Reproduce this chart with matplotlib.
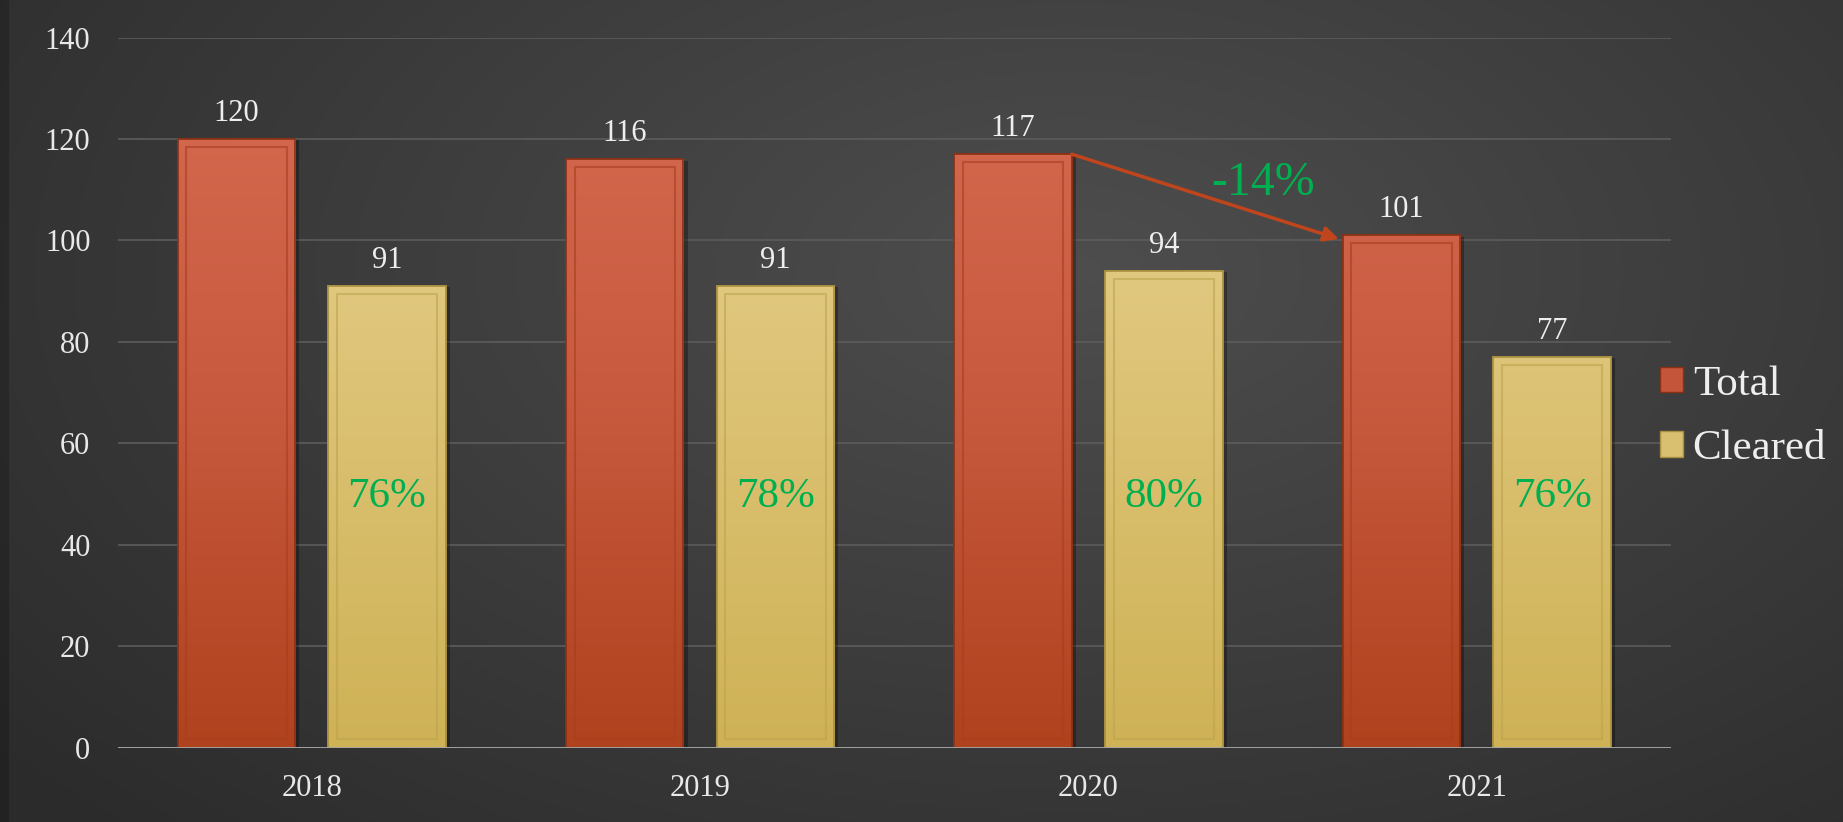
import numpy as np
import matplotlib
matplotlib.use("Agg")
import matplotlib.pyplot as plt
from matplotlib.patches import Rectangle, Patch
from matplotlib.colors import LinearSegmentedColormap
import matplotlib.patheffects as pe

# ---- data ----
years = ["2018", "2019", "2020", "2021"]
total = [120, 116, 117, 101]
cleared = [91, 91, 94, 77]
cleared_pct = ["76%", "78%", "80%", "76%"]
change_label = "-14%"
yticks = [0, 20, 40, 60, 80, 100, 120, 140]

plt.rcParams['font.family'] = ['Liberation Serif', 'DejaVu Serif']

W, H = 1843, 822
fig = plt.figure(figsize=(W / 100, H / 100), dpi=100)

# background radial gradient
bg = fig.add_axes([0, 0, 1, 1], zorder=-10)
yy, xx = np.mgrid[0:H, 0:W]
cx, cy = 0.58 * W, 0.33 * H
d = np.sqrt(((xx - cx) / (0.75 * W)) ** 2 + ((yy - cy) / (0.95 * H)) ** 2)
d = np.clip(d, 0, 1)
val = 0.305 - 0.135 * d
val[:, :9] *= 0.8
img = np.dstack([val, val, val])
bg.imshow(img, aspect='auto', extent=[0, 1, 0, 1], interpolation='bilinear')
bg.set_axis_off()

ax = fig.add_axes([117.5 / W, 74.4 / H, (1671 - 117.5) / W, (747.6 - 37.6) / H])
ax.set_facecolor('none')
for s in ax.spines.values():
    s.set_visible(False)

x = np.arange(len(years))
bw = 0.3026
off = 0.194

cmap_total = LinearSegmentedColormap.from_list('t', ['#b0421e', '#c85a3f', '#d66c52'])
cmap_clear = LinearSegmentedColormap.from_list('c', ['#cfb256', '#dcc274', '#e8d496'])

shadow = [pe.SimplePatchShadow(offset=(3, -1), shadow_rgbFace='black', alpha=0.3), pe.Normal()]
bars_t = ax.bar(x - off, total, bw, color='#c4553a', edgecolor='#8a3015', linewidth=1.2, zorder=3)
bars_c = ax.bar(x + off, cleared, bw, color='#d9c070', edgecolor='#a89040', linewidth=1.2, zorder=3)
for b in list(bars_t) + list(bars_c):
    b.set_path_effects(shadow)

ax.set_xlim(-0.5, 3.5)
ax.set_ylim(0, 140)

grad = np.linspace(0, 1, 256).reshape(-1, 1)
for bars, cmap, inner in ((bars_t, cmap_total, '#a83f20'), (bars_c, cmap_clear, '#bca450')):
    for b in bars:
        x0, y0 = b.get_x(), b.get_y()
        w, h = b.get_width(), b.get_height()
        im = ax.imshow(grad, extent=[x0, x0 + w, 0, 140], origin='lower', cmap=cmap,
                       aspect='auto', zorder=3.5, vmin=0, vmax=1)
        im.set_clip_path(b)
        ax.add_patch(Rectangle((x0, y0), w, h, fill=False, edgecolor=b.get_edgecolor(),
                               linewidth=1.2, zorder=3.8))
        # bevel inner frame
        ix = 0.022
        iy = 1.6
        ax.add_patch(Rectangle((x0 + ix, y0 + iy), w - 2 * ix, h - 2 * iy, fill=False,
                               edgecolor=inner, linewidth=1.5, zorder=4, alpha=0.6))

ax.set_xlim(-0.5, 3.5)
ax.set_ylim(0, 140)

# grid and baseline
ax.set_yticks(yticks)
ax.yaxis.grid(True, color='#5c5c5c', linewidth=1.2)
ax.set_axisbelow(True)
ax.axhline(0, color='#a8a8a8', linewidth=2, zorder=5)

ax.set_xticks(x)
ax.set_xticklabels(years)
ax.tick_params(axis='both', length=0, colors='#e8e8e8', labelsize=22)
ax.tick_params(axis='x', pad=19)
ax.tick_params(axis='y', pad=19.5)

# value labels
for bars, vals in ((bars_t, total), (bars_c, cleared)):
    for b, v in zip(bars, vals):
        ax.annotate(str(v), (b.get_x() + b.get_width() / 2, v), xytext=(0, 8),
                    textcoords='offset points', ha='center', va='bottom',
                    color='#eeeeee', fontsize=22)

# percent labels
for b, p in zip(bars_c, cleared_pct):
    ax.text(b.get_x() + b.get_width() / 2, 49.5, p, ha='center', va='center',
            color='#00b050', fontsize=31, zorder=6)

# arrow 2020 -> 2021
b20 = bars_t[2]
b21 = bars_t[3]
ax.annotate('', xy=(b21.get_x() - 0.01, total[3] - 0.7),
            xytext=(b20.get_x() + b20.get_width(), total[2]),
            arrowprops=dict(arrowstyle='-|>', color='#c0451c', lw=2.5,
                            mutation_scale=22, shrinkA=0, shrinkB=0), zorder=6)
ax.text(2.45, 111.4, change_label, ha='center', va='center', color='#00b050', fontsize=34.5)

# legend
handles = [Patch(facecolor='#c4553a', edgecolor='#8a3015', label='Total'),
           Patch(facecolor='#d9c070', edgecolor='#a89040', label='Cleared')]
leg = fig.legend(handles=handles, loc='center left', bbox_to_anchor=(1660 / W, 0.493),
                 frameon=False, fontsize=31, labelcolor='#eeeeee', handlelength=0.53,
                 handleheight=0.53, handletextpad=0.23, labelspacing=0.6,
                 borderpad=0, borderaxespad=0)

fig.savefig('out.png', dpi=100)
